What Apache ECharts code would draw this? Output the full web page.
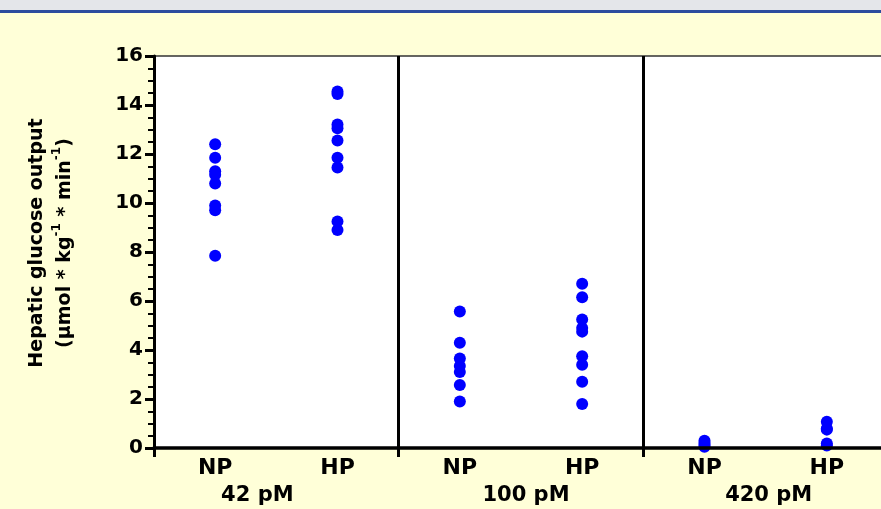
<!DOCTYPE html>
<html>
<head>
<meta charset="utf-8">
<script src="https://cdn.jsdelivr.net/npm/echarts@6/dist/echarts.min.js"></script>
<style>
  html, body { margin: 0; padding: 0; background: #ffffd8; }
  #bar { position: absolute; left: 0; top: 0; width: 881px; height: 10px; background: #e4e6ea; }
  #line { position: absolute; left: 0; top: 10px; width: 881px; height: 3px; background: #2c4c9e; }
  #chart { position: absolute; left: 0; top: 0; width: 881px; height: 509px; }
</style>
</head>
<body>
<div id="chart"></div>
<div id="bar"></div>
<div id="line"></div>
<script>
// ---- data ----
const groups = ['42 pM', '100 pM', '420 pM'];
const conditions = ['NP', 'HP'];
const np42 = [12.4, 11.85, 11.3, 11.15, 10.8, 9.9, 9.7, 7.85];
const hp42 = [14.55, 14.45, 13.2, 13.05, 12.55, 11.85, 11.45, 9.25, 8.9];
const np100 = [5.57, 4.3, 3.65, 3.35, 3.1, 2.57, 1.9];
const hp100 = [6.7, 6.15, 5.25, 4.9, 4.75, 3.75, 3.4, 2.7, 1.8];
const np420 = [0.3, 0.2, 0.12, 0.05];
const hp420 = [1.07, 0.8, 0.75, 0.18, 0.1];
const yTicks = [0, 2, 4, 6, 8, 10, 12, 14, 16];

const columns = [np42, hp42, np100, hp100, np420, hp420];
const categories = [];
groups.forEach(() => conditions.forEach(c => categories.push(c)));
const points = [];
columns.forEach((vals, i) => vals.forEach(v => points.push([i, v])));

const FONT = 'DejaVu Sans';
const chart = echarts.init(document.getElementById('chart'));
const groupPad = [[0, 38, 0, 0], [0, 0, 0, 10], [0, 0, 0, 6]];

chart.setOption({
  backgroundColor: 'transparent',
  animation: false,
  grid: {
    left: 154, top: 56, width: 734, height: 392,
    outerBoundsMode: 'none',
    containLabel: false,
    show: true, backgroundColor: '#ffffff', borderColor: '#333333', borderWidth: 1.5
  },
  xAxis: [
    {
      type: 'category',
      data: categories,
      boundaryGap: true,
      z: 5,
      axisLine: { lineStyle: { color: '#000', width: 3.5 } },
      axisTick: { show: true, interval: (i) => i % 2 === 0, length: 9, lineStyle: { color: '#000', width: 3 } },
      splitLine: { show: true, interval: (i) => i % 2 === 0, lineStyle: { color: '#000', width: 3 } },
      axisLabel: { interval: 0, margin: 9, color: '#000', fontFamily: FONT, fontWeight: 'bold', fontSize: 22 }
    },
    {
      type: 'category',
      data: groups,
      position: 'bottom',
      gridIndex: 0,
      axisLine: { show: false },
      axisTick: { show: false },
      splitLine: { show: false },
      axisLabel: {
        interval: 0, margin: 37,
        formatter: (v, i) => '{g' + i + '|' + v + '}',
        rich: {
          g0: { padding: groupPad[0], color: '#000', fontFamily: FONT, fontWeight: 'bold', fontSize: 21 },
          g1: { padding: groupPad[1], color: '#000', fontFamily: FONT, fontWeight: 'bold', fontSize: 21 },
          g2: { padding: groupPad[2], color: '#000', fontFamily: FONT, fontWeight: 'bold', fontSize: 21 }
        }
      }
    }
  ],
  yAxis: {
    type: 'value',
    min: yTicks[0], max: yTicks[yTicks.length - 1], interval: 2,
    z: 5,
    axisLine: { show: true, lineStyle: { color: '#000', width: 3 } },
    axisTick: { show: true, length: 9, lineStyle: { color: '#000', width: 3 } },
    minorTick: { show: true, splitNumber: 4, length: 6, lineStyle: { color: '#000', width: 2 } },
    splitLine: { show: false },
    axisLabel: { margin: 11, color: '#000', fontFamily: FONT, fontWeight: 'bold', fontSize: 20 }
  },
  graphic: [{
    type: 'text',
    x: 51, y: 243,
    rotation: Math.PI / 2,
    style: {
      text: '{a|Hepatic glucose output}\n{a|(µmol * kg}{s|-1}{a| * min}{s|-1}{a|)}',
      align: 'center',
      verticalAlign: 'middle',
      rich: {
        a: { fontFamily: FONT, fontWeight: 'bold', fontSize: 19, lineHeight: 28, fill: '#000' },
        s: { fontFamily: FONT, fontWeight: 'bold', fontSize: 12, lineHeight: 14, verticalAlign: 'top', fill: '#000' }
      }
    }
  }],
  series: [{
    type: 'scatter',
    xAxisIndex: 0,
    data: points,
    symbol: 'circle',
    symbolSize: 12,
    itemStyle: { color: '#0000ff', opacity: 1 },
    clip: false,
    z: 3
  }]
});
</script>
</body>
</html>
